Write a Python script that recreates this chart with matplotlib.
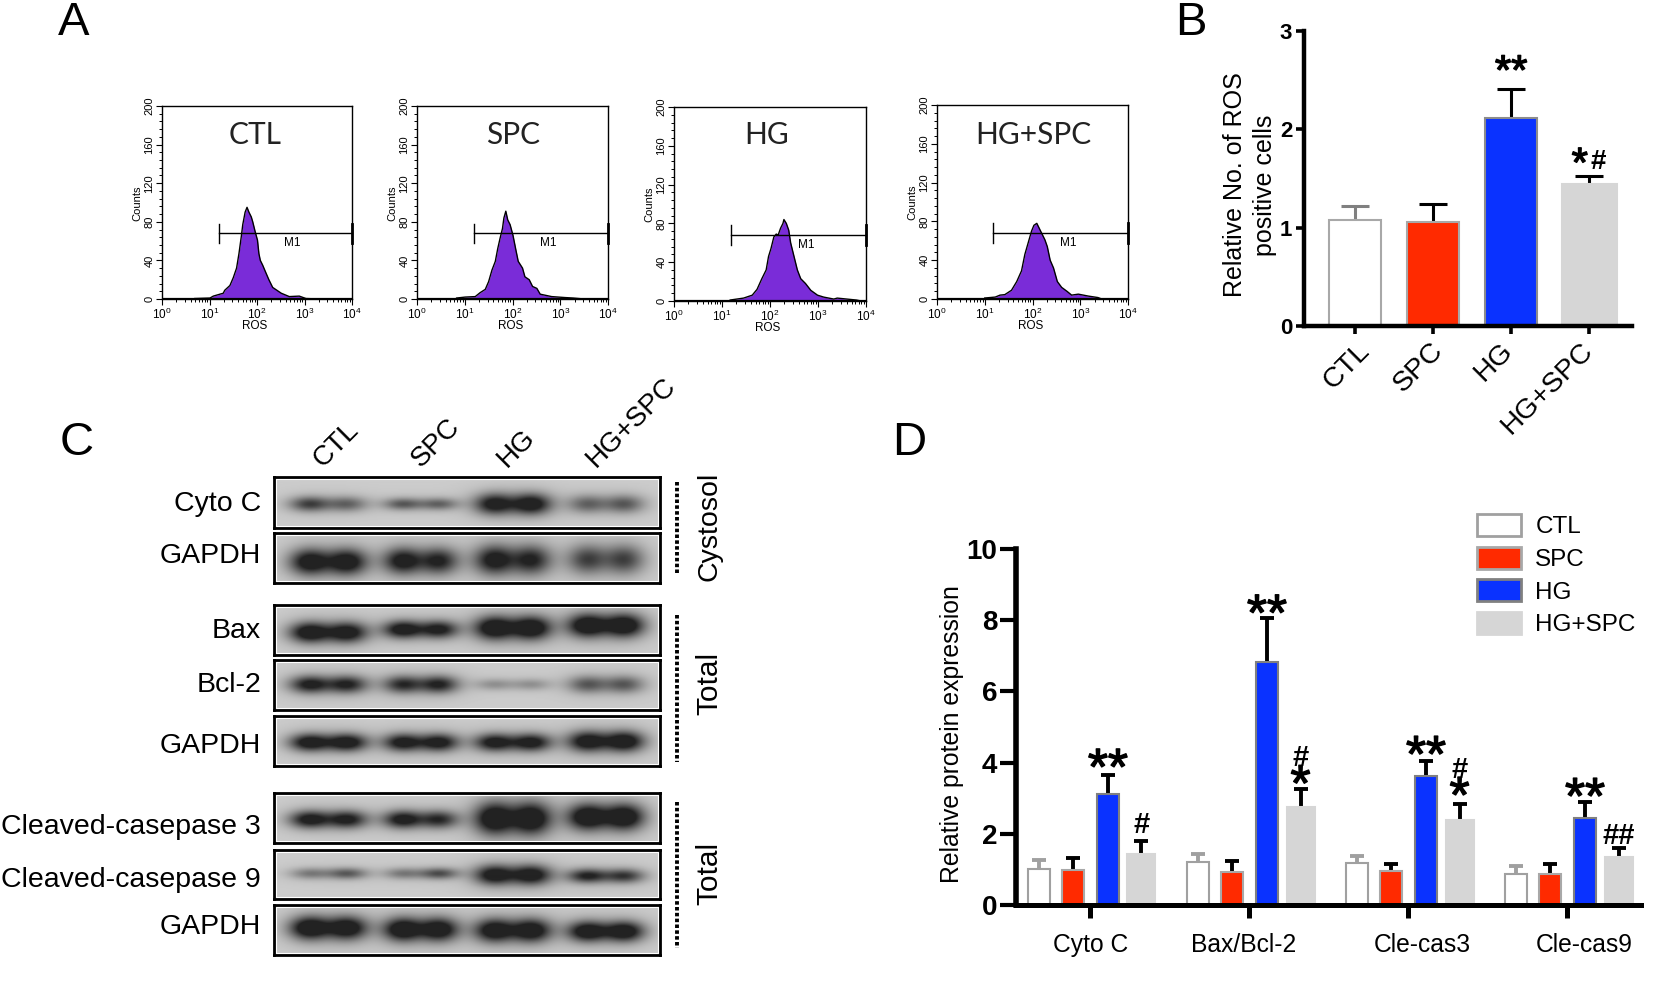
import numpy as np
import matplotlib
matplotlib.use('Agg')
import matplotlib.pyplot as plt
import matplotlib.patheffects as pe
from matplotlib.lines import Line2D
from matplotlib.patches import Patch, Rectangle
from matplotlib.ticker import MultipleLocator

plt.rcParams['font.family'] = ['Liberation Sans', 'DejaVu Sans']
plt.rcParams['mathtext.default'] = 'regular'

W, H = 1654, 994
groups = ['CTL', 'SPC', 'HG', 'HG+SPC']

# panel A histograms, x as log10 of ROS, y as counts
ctl_x = [0.69, 1.01, 1.08, 1.29, 1.32, 1.43, 1.50, 1.57, 1.62, 1.67, 1.70, 1.75, 1.79, 1.83, 1.88, 1.91, 1.96, 2.01, 2.04, 2.07, 2.12, 2.18, 2.25, 2.33, 2.42, 2.51, 2.68, 2.89, 3.03, 3.3]
ctl_y = [0.5, 1, 3, 6, 9, 14, 22, 32, 47, 65, 77, 90, 95, 90, 85, 80, 70, 61, 47, 40, 35, 28, 20, 12, 9, 6, 2.5, 3, 0.5, 0]
spc_x = [0.83, 1.01, 1.22, 1.32, 1.43, 1.50, 1.57, 1.64, 1.69, 1.74, 1.79, 1.82, 1.86, 1.90, 1.95, 2.01, 2.07, 2.12, 2.21, 2.26, 2.35, 2.42, 2.51, 2.58, 2.82, 3.10, 3.27, 3.5]
spc_y = [1, 2, 2.5, 6.5, 10, 18, 30, 39, 52, 63, 73, 84, 91, 82, 77, 66, 51, 39, 32, 23, 20, 13, 11, 5, 2.5, 1.5, 1, 0]
hg_x = [1.17, 1.45, 1.63, 1.73, 1.83, 1.92, 1.97, 2.02, 2.08, 2.13, 2.17, 2.22, 2.27, 2.29, 2.34, 2.39, 2.43, 2.50, 2.57, 2.64, 2.74, 2.85, 2.99, 3.12, 3.33, 3.4, 3.8, 3.9]
hg_y = [1, 3, 6, 12, 23, 32, 46, 54, 66, 69, 68, 75, 80, 84, 80, 73, 60, 46, 32, 23, 18, 11, 6, 4, 2, 3, 1, 0]
hgspc_x = [1.00, 1.22, 1.32, 1.42, 1.56, 1.67, 1.77, 1.84, 1.91, 1.98, 2.03, 2.09, 2.14, 2.21, 2.26, 2.31, 2.37, 2.44, 2.52, 2.61, 2.72, 2.82, 2.96, 3.17, 3.37, 3.45]
hgspc_y = [1, 2, 4, 4.5, 9, 18, 29, 46, 58, 70, 76, 78, 73, 66, 61, 54, 40, 32, 18, 12, 8, 4, 5, 3, 1.5, 0]
hist_x = [ctl_x, spc_x, hg_x, hgspc_x]
hist_y = [ctl_y, spc_y, hg_y, hgspc_y]
gate_start = [1.19, 1.19, 1.18, 1.18]
gate_level = 68

# panel B
ros_mean = [1.08, 1.06, 2.115, 1.447]
ros_sem = [0.14, 0.18, 0.295, 0.078]

# panel D
proteins = ['Cyto C', 'Bax/Bcl-2', 'Cle-cas3', 'Cle-cas9']
ctl_expr = [1.00, 1.20, 1.17, 0.86]
ctl_sem = [0.26, 0.23, 0.21, 0.24]
spc_expr = [0.98, 0.93, 0.95, 0.87]
spc_sem = [0.33, 0.30, 0.20, 0.27]
hg_expr = [3.12, 6.82, 3.63, 2.45]
hg_sem = [0.52, 1.25, 0.41, 0.43]
hgspc_expr = [1.43, 2.74, 2.39, 1.34]
hgspc_sem = [0.38, 0.52, 0.45, 0.26]

# panel C band strengths per lane (left lobe, right lobe), height and place in the blot
blot_labels = ['Cyto C', 'GAPDH', 'Bax', 'Bcl-2', 'GAPDH', 'Cleaved-casepase 3', 'Cleaved-casepase 9', 'GAPDH']
blot_left = [[.62, .50, .85, .45], [.90, .85, .85, .60], [.95, .90, 1, 1], [.80, .70, .25, .50],
             [.90, .85, .85, .90], [.85, .85, 1, 1], [.35, .35, .90, .75], [1, 1, .95, .95]]
blot_right = [[.45, .45, .90, .50], [.90, .75, .75, .60], [.90, .80, 1, 1], [.75, .75, .25, .50],
              [.90, .85, .85, .95], [.80, .70, 1, 1], [.50, .55, .90, .65], [.95, .95, .95, .95]]
blot_sigma = [[5, 4, 7, 6], [9, 9, 10, 10], [7, 6, 8, 8], [6, 6, 4, 6],
              [6, 6, 6, 7], [6, 6, 11, 9], [4, 4, 7, 5], [8, 8, 8, 7]]
blot_place = [[.52, .52, .52, .52], [.57, .55, .53, .52], [.54, .48, .45, .40], [.48, .48, .48, .48],
              [.52, .52, .52, .50], [.52, .52, .50, .47], [.47, .47, .50, .52], [.45, .48, .50, .52]]
blot_rows = [(477, 528), (533, 583), (605, 655), (660, 710), (716, 766), (793, 843), (850, 899), (905, 955)]
label_rows = [504, 556, 631, 685, 746, 827, 880, 927]
lanes = [(13, 95), (107, 186), (198, 279), (291, 372)]

red, blue, grey = '#ff2a00', '#0a32ff', '#d6d6d6'
purple = '#7a2cd8'


def px_axes(x0, y0, x1, y1):
    return fig.add_axes([x0 / W, 1 - y1 / H, (x1 - x0) / W, (y1 - y0) / H])


def ptext(x, y, s, **kw):
    kw.setdefault('ha', 'center')
    kw.setdefault('va', 'center')
    fig.text(x / W, 1 - y / H, s, **kw)


def star(ax, x, y, s, size, lift=0.4):
    # lift puts the glyph middle on y, the asterisk sits high in the em box
    t = ax.annotate(s, (x, y), xytext=(0, -lift * size), textcoords='offset points',
                    ha='center', va='baseline', fontsize=size, annotation_clip=False)
    t.set_path_effects([pe.withStroke(linewidth=1.0, foreground='black')])


def hash_mark(ax, x, y, s, size):
    ax.annotate(s, (x, y), xytext=(0, -.35 * size), textcoords='offset points', ha='center',
                va='baseline', fontsize=size, fontweight='bold', annotation_clip=False)


def blot_image(left, right, sigma, place, nx=387, ny=50):
    xx, yy = np.meshgrid(np.arange(nx), np.arange(ny))
    dark = np.zeros((ny, nx))
    for i, (a, b) in enumerate(lanes):
        w = b - a
        for strength, pos in ((left[i], a + .27 * w), (right[i], a + .73 * w)):
            core = np.exp(-.5 * ((xx - pos) / (.17 * w)) ** 2) * np.exp(-.5 * ((yy - place[i] * ny) / sigma[i]) ** 2)
            halo = np.exp(-.5 * ((xx - pos) / (.3 * w)) ** 2) * np.exp(-.5 * ((yy - place[i] * ny) / (1.8 * sigma[i])) ** 2)
            dark += strength * (core + .12 * halo)
    dark = np.clip(1.2 * dark, 0, 1)
    return .80 * (1 - dark) + .14 * dark


fig = plt.figure(figsize=(W / 100, H / 100), dpi=100)

ptext(58, 35, 'A', fontsize=34, ha='left', va='baseline')
ptext(1175, 35, 'B', fontsize=34, ha='left', va='baseline')
ptext(60, 455, 'C', fontsize=34, ha='left', va='baseline')
ptext(892, 455, 'D', fontsize=34, ha='left', va='baseline')

# A: flow cytometry
boxes = [(162, 106, 352, 299), (417, 106, 608, 299), (674, 107, 866, 301), (937, 105, 1128, 299)]
title_x = [255, 513, 767, 1033]
for i, box in enumerate(boxes):
    ax = px_axes(*box)
    xs = 10.0 ** np.array(hist_x[i])
    ax.fill_between(xs, hist_y[i], color=purple, lw=0)
    ax.plot(xs, hist_y[i], color='black', lw=1.0)
    ax.axhline(0, color='black', lw=1.6)
    ax.set_xscale('log')
    ax.set_xlim(1, 1e4)
    ax.set_ylim(0, 200)
    ax.yaxis.set_major_locator(MultipleLocator(40))
    ax.yaxis.set_minor_locator(MultipleLocator(8))
    ax.tick_params(which='major', length=4, width=0.8, labelsize=8.5, pad=1.5)
    ax.tick_params(which='minor', length=2, width=0.7)
    ax.tick_params(axis='y', labelrotation=90, labelsize=8)
    for lab in ax.get_yticklabels():
        lab.set_va('center')
    for s in ax.spines.values():
        s.set_linewidth(1.0)
    g0 = 10 ** gate_start[i]
    ax.plot([g0, 1e4], [gate_level, gate_level], color='black', lw=1.0, clip_on=False)
    ax.plot([g0, g0], [gate_level - 10, gate_level + 10], color='black', lw=1.0)
    ax.plot([1e4, 1e4], [gate_level - 10, gate_level + 10], color='black', lw=2, clip_on=False)
    ax.text(10 ** 2.75, gate_level - 10, 'M1', fontsize=8.5, ha='center', va='center')
    ptext((box[0] + box[2]) / 2 - 2, box[3] + 27, 'ROS', fontsize=8.5)
    ptext(box[0] - 25, box[1] + 97, 'Counts', fontsize=8, rotation=90)
    ptext(title_x[i], 135, groups[i], fontsize=21.5, family='Lato', color='#222222')

# B: ROS positive cells
ax = px_axes(1304, 31, 1632, 326)
colors = ['white', red, blue, grey]
edges = ['#a8a8a8', '#a8a8a8', '#8c8c8c', grey]
err_colors = ['#808080', 'black', 'black', 'black']
bar_w = [.667, .667, .667, .705]
for i in range(4):
    ax.bar(i, ros_mean[i], bar_w[i], color=colors[i], edgecolor=edges[i], lw=1.5, zorder=2)
    ax.errorbar(i, ros_mean[i], yerr=ros_sem[i], color=err_colors[i], elinewidth=2.2,
                capsize=10, capthick=2.2, zorder=1)
ax.set_xlim(-.654, 3.55)
ax.set_ylim(0, 3)
ax.set_xticks(range(4))
ax.set_xticklabels([])
ax.set_yticks([0, 1, 2, 3])
ax.set_yticklabels(['0', '1', '2', '3'], fontsize=16, fontweight='bold')
ax.tick_params(axis='y', length=5.5, width=2.6, pad=3)
ax.tick_params(axis='x', length=6, width=2.6)
ax.spines[['top', 'right']].set_visible(False)
ax.spines[['left', 'bottom']].set_linewidth(3.2)
star(ax, 2.0, 2.63, '**', 30)
star(ax, 2.88, 1.69, '*', 30)
hash_mark(ax, 3.12, 1.70, '#', 20)
ptext(1250, 185, 'Relative No. of ROS\npositive cells', fontsize=18, rotation=90, linespacing=1.35)
for lab, x in zip(groups, [1366, 1439, 1509, 1589]):
    ptext(x, 347, lab, fontsize=20.5, rotation=45, ha='right', rotation_mode='anchor')

# C: western blots
for i, (top, bottom) in enumerate(blot_rows):
    ax = px_axes(274, top, 660, bottom)
    ax.imshow(blot_image(blot_left[i], blot_right[i], blot_sigma[i], blot_place[i]),
              cmap='gray', vmin=0, vmax=1, aspect='auto')
    ax.set_xticks([])
    ax.set_yticks([])
    for s in ax.spines.values():
        s.set_linewidth(2)
    ax.add_patch(Rectangle((0.004, 0.04), .992, .92, transform=ax.transAxes, fill=False, ec='white', lw=0.8))
    ptext(261, label_rows[i], blot_labels[i], fontsize=20.5, ha='right')
for lab, x in zip(groups, [327, 425, 511, 600]):
    ptext(x, 472, lab, fontsize=20, rotation=45, ha='left', va='bottom', rotation_mode='anchor')
for y0, y1 in [(482, 573), (615, 762), (802, 948)]:
    fig.add_artist(Line2D([677 / W, 677 / W], [1 - y0 / H, 1 - y1 / H], color='black', lw=2.8,
                          linestyle=(0, (.9, .6)), transform=fig.transFigure))
ptext(709, 526, 'Cystosol', fontsize=20.5, rotation=90)
ptext(709, 683, 'Total', fontsize=21.5, rotation=90)
ptext(709, 873, 'Total', fontsize=21.5, rotation=90)

# D: protein expression
ax = px_axes(1016, 549, 1641, 905)
offsets = [-.32, -.107, .113, .324]
series = [ctl_expr, spc_expr, hg_expr, hgspc_expr]
sems = [ctl_sem, spc_sem, hg_sem, hgspc_sem]
edges_d = ['#a0a0a0', '#a8a8a8', '#808080', grey]
err_d = ['#a0a0a0', 'black', 'black', 'black']
width_d = [.14, .14, .14, .176]
for k in range(4):
    xs = np.arange(4) + offsets[k]
    ax.bar(xs, series[k], width_d[k], color=colors[k], edgecolor=edges_d[k], lw=1.5, zorder=2)
    ax.errorbar(xs, series[k], yerr=sems[k], fmt='none', ecolor=err_d[k], elinewidth=2.8,
                capsize=5, capthick=2.8, zorder=1)
ax.set_xlim(-.465, 3.465)
ax.set_ylim(0, 10)
ax.set_xticks(range(4))
ax.set_xticklabels([])
ax.set_yticks(range(0, 11, 2))
ax.set_yticklabels(range(0, 11, 2), fontsize=20, fontweight='bold')
ax.tick_params(axis='y', length=11.5, width=3, pad=2)
ax.tick_params(axis='x', length=9, width=3.6)
ax.spines[['top', 'right']].set_visible(False)
ax.spines['left'].set_linewidth(4)
ax.spines['bottom'].set_linewidth(3.6)
for i, y in enumerate([4.07, 8.4, 4.43, 3.25]):
    star(ax, i + offsets[2], y, '**', 37, lift=.47)
for i, s, y in [(0, '#', 2.31), (1, '#', 4.2), (2, '#', 3.85), (3, '##', 2.01)]:
    hash_mark(ax, i + offsets[3], y, s, 21)
star(ax, 1 + offsets[3], 3.51, '*', 37)
star(ax, 2 + offsets[3], 3.18, '*', 37)
ptext(952, 734, 'Relative protein expression', fontsize=17.8, rotation=90)
for lab, x in zip(proteins, [1091, 1244, 1422, 1584]):
    ptext(x, 945, lab, fontsize=17.7)
handles = [Patch(facecolor=colors[k], edgecolor=edges_d[k], lw=2, label=groups[k]) for k in range(4)]
fig.legend(handles=handles, loc='upper left', bbox_to_anchor=(1477 / W, 1 - 514 / H), frameon=False,
           fontsize=17.5, borderpad=0, borderaxespad=0, handlelength=1.8, handleheight=1.02,
           labelspacing=.34, handletextpad=.6)

fig.savefig('out.png', dpi=100)
